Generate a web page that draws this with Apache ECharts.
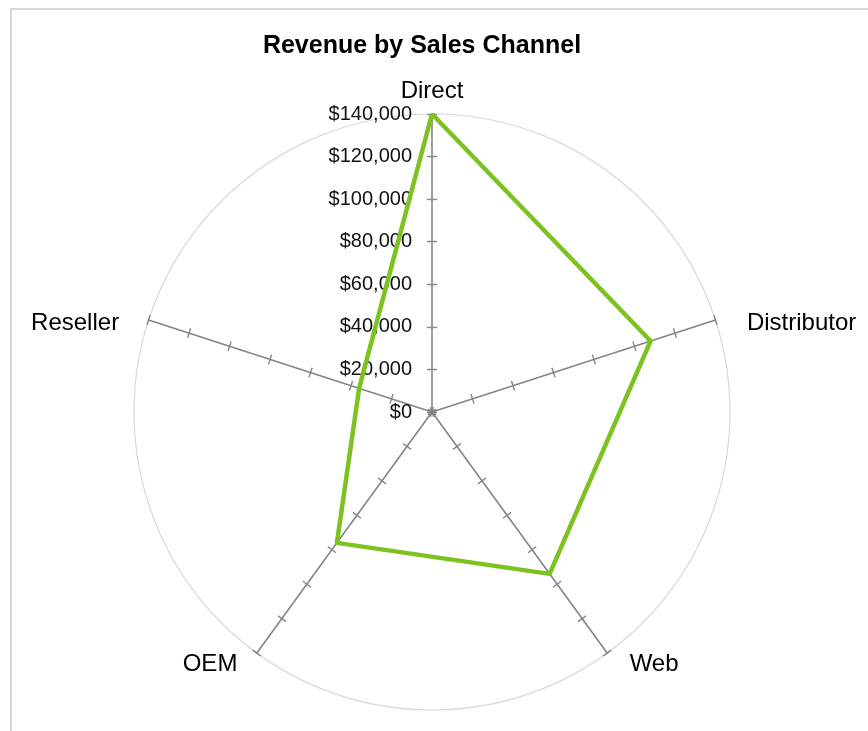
<!DOCTYPE html>
<html>
<head>
<meta charset="utf-8">
<script src="https://cdn.jsdelivr.net/npm/echarts@6/dist/echarts.min.js"></script>
<style>
  html, body { margin: 0; padding: 0; background: #fff; }
  #chart { width: 868px; height: 731px; position: absolute; left: 0; top: 0; }
  #frame { position: absolute; left: 10px; top: 8px; width: 900px; height: 800px;
           border-left: 2px solid #d6d6d6; border-top: 2px solid #d6d6d6; pointer-events: none; }
</style>
</head>
<body>
<div id="chart"></div>
<div id="frame"></div>
<script>
// Data (clockwise from top in the picture: Direct, Distributor, Web, OEM, Reseller)
const channels = ['Direct', 'Distributor', 'Web', 'OEM', 'Reseller'];
const revenue  = [140000, 108000, 94000, 76000, 36000];
const axisMax = 140000;
const tickStep = 20000;

// ECharts places indicators counter-clockwise, so reverse the tail to get clockwise order
const order = [0, 4, 3, 2, 1];
const indicators = order.map(i => ({ name: channels[i], min: 0, max: axisMax }));
const values = order.map(i => revenue[i]);

const CENTER = [432, 412];
const RADIUS = 298;
const FONT = 'Liberation Sans, Arial, sans-serif';
const NAME_STYLE = { Direct: 'top', Distributor: 'right', Reseller: 'left', OEM: 'bl', Web: 'br' };

function radarBase(extra) {
  return Object.assign({
    center: CENTER,
    radius: RADIUS,
    startAngle: 90,
    shape: 'circle',
    indicator: indicators,
    splitNumber: axisMax / tickStep,
    axisName: { show: false },
    axisLine: { show: false },
    axisTick: { show: false },
    axisLabel: { show: false },
    splitLine: { show: false },
    splitArea: { show: false }
  }, extra);
}

const chart = echarts.init(document.getElementById('chart'), null, { renderer: 'canvas' });
chart.setOption({
  backgroundColor: '#ffffff',
  animation: false,
  title: {
    text: 'Revenue by Sales Channel',
    left: 417,
    top: 29,
    textAlign: 'center',
    textStyle: { fontFamily: FONT, fontWeight: 'bold', fontSize: 25, color: '#000' }
  },
  radar: [
    // outer circle
    radarBase({
      splitNumber: 1,
      splitLine: { show: true, lineStyle: { color: '#d9d9d9', width: 1.2 } }
    }),
    // axis lines + ticks on one side + names
    radarBase({
      axisName: {
        show: true, color: '#000', fontFamily: FONT, fontSize: 24,
        formatter: name => '{' + NAME_STYLE[name] + '|' + name + '}',
        rich: {
          top:   { fontFamily: FONT, fontSize: 24, color: '#000', padding: [0, 0, 0, 0] },
          right: { fontFamily: FONT, fontSize: 24, color: '#000', padding: [14, 0, 0, 21] },
          left:  { fontFamily: FONT, fontSize: 24, color: '#000', padding: [14, 19, 0, 0] },
          bl:    { fontFamily: FONT, fontSize: 24, color: '#000', padding: [4, 13, 0, 0] },
          br:    { fontFamily: FONT, fontSize: 24, color: '#000', padding: [4, 0, 0, 16] }
        }
      },
      nameGap: 11,
      axisLine: { show: true, lineStyle: { color: '#858585', width: 1.6 } },
      axisTick: { show: true, length: 5, lineStyle: { color: '#858585', width: 1.4 } }
    }),
    // ticks on the other side
    radarBase({
      axisTick: { show: true, length: -5, lineStyle: { color: '#858585', width: 1.4 } }
    })
  ],
  grid: { left: CENTER[0], top: CENTER[1] - RADIUS, width: 1, height: RADIUS, containLabel: false },
  xAxis: { type: 'value', show: false, min: 0, max: 1 },
  yAxis: {
    type: 'value',
    min: 0, max: axisMax, interval: tickStep,
    axisLine: { show: false },
    axisTick: { show: false },
    splitLine: { show: false },
    axisLabel: {
      margin: 20,
      color: '#111',
      fontFamily: FONT,
      fontSize: 20,
      formatter: v => '$' + v.toLocaleString('en-US')
    }
  },
  series: [{
    type: 'radar',
    radarIndex: 1,
    symbol: 'none',
    z: 5,
    lineStyle: { color: '#7cc31f', width: 4.5 },
    data: [{ value: values, name: 'Revenue' }]
  }]
});
</script>
</body>
</html>
